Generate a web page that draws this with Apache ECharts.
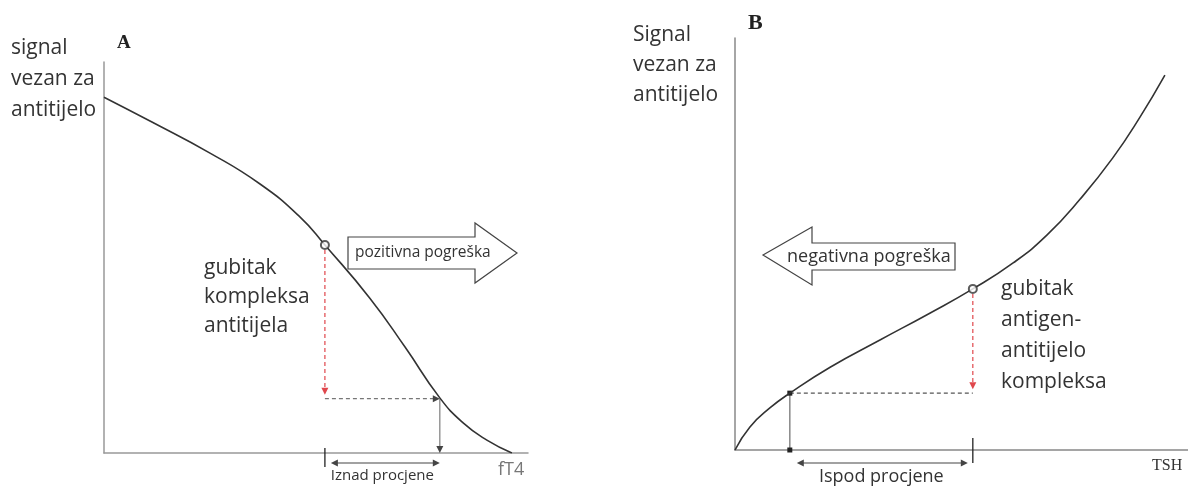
<!DOCTYPE html>
<html>
<head>
<meta charset="utf-8">
<script src="https://cdn.jsdelivr.net/npm/echarts@6/dist/echarts.min.js"></script>
<style>html,body{margin:0;padding:0;background:#fff}#main{width:1188px;height:486px}</style>
</head>
<body>
<div id="main"></div>
<script>
// panel A: signal falls as fT4 rises
var curveA_x = [0, 10.85, 25, 36.8, 46.2, 52.1, 62.7, 71, 79.2, 84.7, 90.3, 96.2];
var curveA_y = [91, 84.9, 76.7, 68.8, 60.4, 53.2, 39.6, 27.1, 14.1, 7.7, 3.3, 0];
// panel B: signal rises with TSH
var curveB_x = [0, 3.3, 7.7, 12.1, 21, 32, 43, 52.5, 61.4, 68.9, 76.2, 83.4, 89.4, 94.9];
var curveB_y = [0, 5.6, 10.2, 13.8, 20.1, 26.7, 33.2, 39.1, 45.4, 52.2, 60.9, 70.9, 80.8, 91];
// measured point (open circle) and the value read back off the curve
var markA = [52.1, 53.2], readA = [79.2, 13.9];
var markB = [52.5, 39.1], readB = [12.1, 13.8];

var FONT = '"Open Sans", "Noto Sans", sans-serif';
var RED = '#e0474c', DARK = '#333';

function zip(xs, ys) {
    var out = [];
    for (var i = 0; i < xs.length; i++) out.push([xs[i], ys[i]]);
    return out;
}

function seg(x1, y1, x2, y2, color, dash, w) {
    return {type: 'line', shape: {x1: x1, y1: y1, x2: x2, y2: y2},
        style: {stroke: color, lineWidth: w || 1.3, lineDash: dash ? [4, 3] : null}};
}
function head(tx, ty, dx, dy, color) {
    var len = 7, half = 3.5;
    var bx = tx - dx * len, by = ty - dy * len;
    return {type: 'polygon', shape: {points: [[tx, ty], [bx - dy * half, by + dx * half], [bx + dy * half, by - dx * half]]},
        style: {fill: color}};
}
function dot(x, y) {
    return {type: 'rect', shape: {x: x - 2.5, y: y - 2.5, width: 5, height: 5}, style: {fill: '#222'}};
}

function annotate(cfg) {
    return function (params, api) {
        var mx = api.value(0), my = api.value(1), rx = api.value(2), ry = api.value(3);
        var m = api.coord([mx, my]), r = api.coord([rx, ry]);
        var axY = api.coord([mx, 0])[1];
        var els = [];
        // red dashed drop from the measured point
        els.push(seg(m[0], m[1] + 5, m[0], r[1] - 9, RED, true, 1.2));
        els.push(head(m[0], r[1] - 4, 0, 1, RED));
        if (cfg.side === 'A') {
            els.push(seg(m[0], r[1], r[0] - 5, r[1], '#777', true, 1.3));
            els.push(head(r[0], r[1], 1, 0, '#444'));
            els.push(seg(r[0], r[1], r[0], axY - 5, '#888', false, 1.3));
            els.push(head(r[0], axY, 0, 1, '#444'));
        } else {
            els.push(seg(r[0], r[1], m[0], r[1], '#555', true, 1.3));
            els.push(seg(r[0], r[1], r[0], axY, '#888', false, 1.5));
            els.push(dot(r[0], r[1]));
            els.push(dot(r[0], axY));
        }
        // tick on the x axis under the measured point
        els.push(seg(m[0], axY + cfg.tick[0], m[0], axY + cfg.tick[1], '#222', false, 1.3));
        // double arrow showing the over / under estimate
        var lo = Math.min(m[0], r[0]) + cfg.pad[0], hi = Math.max(m[0], r[0]) - cfg.pad[1];
        var ay = axY + cfg.arrowY;
        els.push(seg(lo + 4, ay, hi - 4, ay, '#444', false, 1.2));
        els.push(head(lo, ay, -1, 0, '#444'));
        els.push(head(hi, ay, 1, 0, '#444'));
        els.push({type: 'text', style: {text: cfg.label, x: (m[0] + r[0]) / 2, y: axY + cfg.labelY,
            align: 'center', verticalAlign: 'middle', font: cfg.labelSize + 'px ' + FONT, fill: DARK}});
        return {type: 'group', children: els};
    };
}

function axisOpt(gi, color) {
    return {type: 'value', gridIndex: gi, min: 0, max: 100,
        axisLine: {show: true, onZero: false, lineStyle: {color: color, width: 1.5}},
        axisTick: {show: false}, axisLabel: {show: false}, splitLine: {show: false}};
}

var chart = echarts.init(document.getElementById('main'));

var option = {
    animation: false,
    backgroundColor: '#fff',
    grid: [
        {left: 104, top: 62, width: 424, height: 391},
        {left: 735, top: 38, width: 453, height: 412}
    ],
    xAxis: [axisOpt(0, '#999'), axisOpt(1, '#888')],
    yAxis: [axisOpt(0, '#999'), axisOpt(1, '#888')],
    series: [
        {type: 'line', xAxisIndex: 0, yAxisIndex: 0, data: zip(curveA_x, curveA_y), smooth: 0.5,
            showSymbol: false, lineStyle: {color: DARK, width: 1.6}},
        {type: 'line', xAxisIndex: 1, yAxisIndex: 1, data: zip(curveB_x, curveB_y), smooth: 0.5,
            showSymbol: false, lineStyle: {color: DARK, width: 1.6}},
        {type: 'custom', xAxisIndex: 0, yAxisIndex: 0, clip: false, z: 3,
            data: [[markA[0], markA[1], readA[0], readA[1]]],
            renderItem: annotate({side: 'A', tick: [-5, 14], pad: [6, 0], arrowY: 10,
                label: 'Iznad procjene', labelY: 23, labelSize: 15})},
        {type: 'custom', xAxisIndex: 1, yAxisIndex: 1, clip: false, z: 3,
            data: [[markB[0], markB[1], readB[0], readB[1]]],
            renderItem: annotate({side: 'B', tick: [-12, 13], pad: [7, 5], arrowY: 13,
                label: 'Ispod procjene', labelY: 27, labelSize: 18})},
        {type: 'scatter', xAxisIndex: 0, yAxisIndex: 0, data: [markA], symbol: 'emptyCircle', symbolSize: 8,
            itemStyle: {color: '#333', borderWidth: 1.4}, z: 5},
        {type: 'scatter', xAxisIndex: 1, yAxisIndex: 1, data: [markB], symbol: 'emptyCircle', symbolSize: 8,
            itemStyle: {color: '#333', borderWidth: 1.4}, z: 5}
    ],
    graphic: [
        {type: 'text', style: {text: 'signal\nvezan za\nantitijelo', x: 11, y: 33, font: '21px ' + FONT, lineHeight: 31, fill: DARK}},
        {type: 'text', style: {text: 'A', x: 117, y: 43, verticalAlign: 'middle', font: 'bold 19px "Liberation Serif", serif', fill: '#222'}},
        {type: 'text', style: {text: 'Signal\nvezan za\nantitijelo', x: 633, y: 20, font: '21px ' + FONT, lineHeight: 30, fill: DARK}},
        {type: 'text', style: {text: 'B', x: 748, y: 23, verticalAlign: 'middle', font: 'bold 22px "Liberation Serif", serif', fill: '#222'}},
        {type: 'text', style: {text: 'gubitak\nkompleksa\nantitijela', x: 204, y: 254, font: '21px ' + FONT, lineHeight: 29, fill: DARK}},
        {type: 'text', style: {text: 'gubitak\nantigen-\nantitijelo\nkompleksa', x: 1001, y: 274, font: '21px ' + FONT, lineHeight: 31, fill: DARK}},
        {type: 'polygon', shape: {points: [[348, 237], [475, 237], [475, 223], [517, 253], [475, 283], [475, 269], [348, 269]]},
            style: {fill: '#fff', stroke: '#444', lineWidth: 1.2}},
        {type: 'text', style: {text: 'pozitivna pogreška', x: 355, y: 253, verticalAlign: 'middle', font: '15.5px ' + FONT, fill: DARK}},
        {type: 'polygon', shape: {points: [[763, 255], [812, 227], [812, 243], [955, 243], [955, 270], [812, 270], [812, 285]]},
            style: {fill: '#fff', stroke: '#444', lineWidth: 1.2}},
        {type: 'text', style: {text: 'negativna pogreška', x: 787, y: 257, verticalAlign: 'middle', font: '18px ' + FONT, fill: DARK}},
        {type: 'text', style: {text: 'fT4', x: 498, y: 470, verticalAlign: 'middle', font: '18px ' + FONT, fill: '#777'}},
        {type: 'text', style: {text: 'TSH', x: 1152, y: 466, verticalAlign: 'middle', font: '16px "Liberation Serif", serif', fill: '#333'}}
    ]
};

chart.setOption(option);
</script>
</body>
</html>
